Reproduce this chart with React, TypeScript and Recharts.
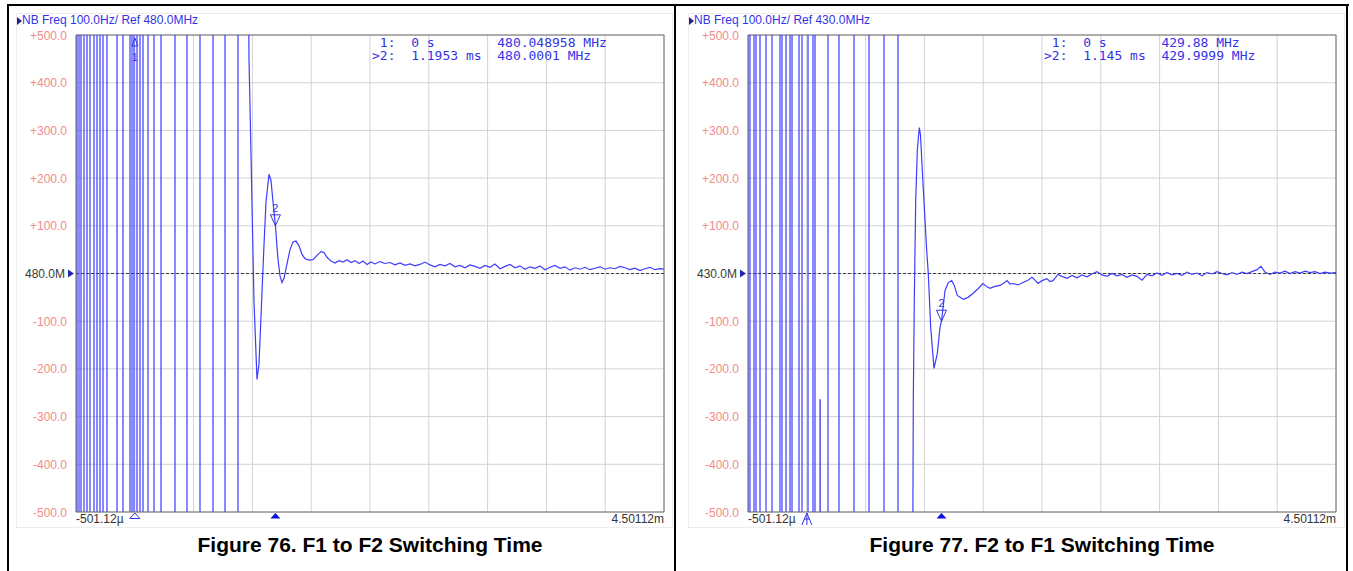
import React from 'react';
import { LineChart, Line, XAxis, YAxis, CartesianGrid, ReferenceLine, ReferenceDot } from 'recharts';

// x: time in ms (-501.12µ .. 4.50112m), y: offset from ref freq in Hz (10 div of 100 Hz)
const timeTicks = [-0.50112, -0.000896, 0.499328, 0.999552, 1.499776, 2.0, 2.500224, 3.000448, 3.500672, 4.000896, 4.50112];
const freqTicks = [-500, -400, -300, -200, -100, 0, 100, 200, 300, 400, 500];

// Figure 76: F1 -> F2 (ref 480.0 MHz)
// off-scale hops before lock: [time, from, to], +/-1000 = clipped off screen
const f76Start = [-0.50112, 1000];
const f76Hops = [
  [-0.4926, 1000, -1000], [-0.4756, -1000, 1000], [-0.4586, 1000, -1000], [-0.4331, -1000, 1000],
  [-0.4075, 1000, -1000], [-0.382, -1000, 1000], [-0.348, 1000, -1000], [-0.3225, -1000, 1000],
  [-0.2969, 1000, -1000], [-0.2714, -1000, 1000], [-0.2374, 1000, -1000], [-0.1523, -1000, 1000],
  [-0.1013, 1000, -1000], [-0.0417, -1000, 1000], [-0.0247, 1000, -1000], [-0.0077, -1000, 1000],
  [0.0178, 1000, -1000], [0.0433, -1000, 1000], [0.0689, 1000, -1000], [0.1114, -1000, 1000],
  [0.1624, 1000, -1000], [0.222, -1000, 1000], [0.3411, 1000, -1000], [0.4432, -1000, 1000],
  [0.5538, 1000, -1000], [0.6644, -1000, 1000], [0.7665, 1000, -1000], [0.8771, -1000, 1000],
];
const f76Settle = [
  [0.9536, 1000], [0.9706, 450], [0.9876, 250], [1.0132, -60], [1.0387, -222], [1.0557, -190],
  [1.0727, -90], [1.0982, 60], [1.1153, 150], [1.1408, 208], [1.1578, 195], [1.1748, 150],
  [1.1953, 100], [1.2173, 30], [1.2344, -5], [1.2514, -19], [1.2684, -10], [1.2939, 20],
  [1.3194, 50], [1.345, 66], [1.3705, 68], [1.396, 58], [1.4215, 40], [1.447, 31], [1.4811, 28],
  [1.5151, 29], [1.5491, 38], [1.5831, 46], [1.6087, 44], [1.6342, 34], [1.6682, 26], [1.7022, 22],
  [1.7363, 27], [1.7703, 24], [1.8043, 29], [1.8384, 23], [1.8724, 27], [1.9064, 21], [1.9404, 26],
  [1.9745, 19], [2.0085, 24], [2.0425, 20], [2.0851, 25], [2.1276, 21], [2.1701, 23], [2.2127, 18],
  [2.2552, 22], [2.2977, 17], [2.3403, 20], [2.3828, 16], [2.4253, 19], [2.4679, 24], [2.5104, 18],
  [2.5529, 14], [2.5955, 19], [2.638, 16], [2.6806, 21], [2.7231, 14], [2.7656, 17], [2.8082, 12],
  [2.8507, 18], [2.8932, 15], [2.9358, 11], [2.9783, 17], [3.0208, 13], [3.0634, 20], [3.1059, 10],
  [3.1485, 15], [3.191, 19], [3.2336, 12], [3.2761, 16], [3.3186, 9], [3.3612, 14], [3.4037, 11],
  [3.4462, 16], [3.4888, 8], [3.5313, 13], [3.5738, 17], [3.6164, 11], [3.6589, 14], [3.7015, 7],
  [3.744, 12], [3.7865, 9], [3.8291, 13], [3.8716, 8], [3.9141, 11], [3.9567, 14], [3.9992, 9],
  [4.0417, 12], [4.0843, 10], [4.1268, 15], [4.1694, 12], [4.2119, 8], [4.2544, 11], [4.297, 6],
  [4.3395, 10], [4.382, 13], [4.4246, 8], [4.4671, 10], [4.5011, 9],
];
const f76Marker1 = [0, 500];
const f76Marker2 = [1.1953, 100];
const f76Readout = ' 1:  0 s        480.048958 MHz\n>2:  1.1953 ms  480.0001 MHz';

// Figure 77: F2 -> F1 (ref 430.0 MHz)
const f77Start = [-0.50112, 1000];
const f77Hops = [
  [-0.5006, 1000, -1000], [-0.4841, -1000, 1000], [-0.4501, 1000, -1000], [-0.4331, -1000, 1000],
  [-0.399, 1000, -1000], [-0.348, -1000, 1000], [-0.2969, 1000, -1000], [-0.2289, -1000, 1000],
  [-0.2119, 1000, -1000], [-0.1778, -1000, 1000], [-0.1438, 1000, -1000], [-0.1268, -1000, 1000],
  [-0.0672, 1000, -1000], [-0.0417, -1000, 1000], [0.0093, 1000, -1000], [0.0518, -1000, 1000],
  [0.0689, 1000, -1000], [0.1114, -1000, -265], [0.113, -265, -1000], [0.1794, -1000, 1000],
  [0.273, 1000, -1000], [0.4007, -1000, 1000], [0.5283, 1000, -1000], [0.6559, -1000, 1000],
  [0.775, 1000, -1000],
];
const f77Settle = [
  [0.8941, -1000], [0.9051, -266], [0.9136, -57], [0.9256, 153], [0.9392, 258], [0.9562, 306],
  [0.9664, 290], [0.9876, 189], [1.0191, 48], [1.0327, 0], [1.0531, -113], [1.0812, -199],
  [1.1093, -168], [1.1323, -113], [1.145, -100], [1.1748, -36], [1.2029, -19], [1.2318, -15],
  [1.2539, -25], [1.2794, -46], [1.3305, -54], [1.3705, -50], [1.413, -42], [1.4555, -32],
  [1.4981, -21], [1.5321, -28], [1.5576, -31], [1.6001, -27], [1.6427, -25], [1.6767, -20],
  [1.7022, -15], [1.7278, -22], [1.7533, -21], [1.7958, -24], [1.8384, -19], [1.8809, -14],
  [1.9149, -8], [1.9404, -14], [1.966, -21], [2.0, -15], [2.0425, -11], [2.0681, -17], [2.0936, -15],
  [2.1361, -2], [2.1701, -6], [2.2127, -10], [2.2552, -4], [2.2977, -9], [2.3403, -3], [2.3828, -7],
  [2.4253, -1], [2.4679, 4], [2.5104, -3], [2.5529, -6], [2.5955, 0], [2.638, -5], [2.6806, -2],
  [2.7231, -8], [2.7656, -3], [2.8082, -6], [2.8507, -14], [2.8932, -2], [2.9358, -5], [2.9783, 1],
  [3.0208, -4], [3.0634, 2], [3.1059, -3], [3.1485, 0], [3.191, -4], [3.2336, 3], [3.2761, -2],
  [3.3186, 1], [3.3612, -5], [3.4037, 2], [3.4462, -1], [3.4888, 4], [3.5313, 0], [3.5738, -3],
  [3.6164, 2], [3.6589, -2], [3.7015, 3], [3.744, 0], [3.7865, 4], [3.8291, 8], [3.8631, 15],
  [3.8971, 3], [3.9397, -2], [3.9822, 3], [4.0247, 1], [4.0673, 5], [4.1098, 0], [4.1523, 4],
  [4.1949, 1], [4.2374, 5], [4.2799, 2], [4.3225, 4], [4.365, 0], [4.4076, 3], [4.4501, 1], [4.5011, 2],
];
const f77Marker1 = [0, -500];
const f77Marker2 = [1.145, -100];
const f77Readout = ' 1:  0 s       429.88 MHz\n>2:  1.145 ms  429.9999 MHz';

const TRACE = '#3d3dff';
const GRID = '#d3d3d3';
const FRAME = '#707070';
const LABEL_RED = '#f58a8a';
const TEXT_BLUE = '#3434e6';
const SANS = '"Liberation Sans", Arial, sans-serif';

function buildTrace(start: number[], hops: number[][], settle: number[][]) {
  const pts = [{ t: start[0], v: start[1] }];
  hops.forEach(([t, a, b]) => {
    pts.push({ t, v: a }, { t, v: b });
  });
  settle.forEach(([t, v]) => pts.push({ t, v }));
  return pts;
}

function FreqTick(props: any) {
  const { x, y, payload, refLabel } = props;
  if (payload.value === 0) {
    return (
      <g>
        <text x={x - 3} y={y} dy={4.5} textAnchor="end" fontSize={12} fontFamily={SANS} fill="#3a3a3a">{refLabel}</text>
        <path d={`M${x},${y - 4}L${x + 6},${y}L${x},${y + 4}Z`} fill="#2525b0" />
      </g>
    );
  }
  const label = (payload.value > 0 ? '+' : '') + payload.value.toFixed(1);
  return <text x={x - 1} y={y} dy={4.5} textAnchor="end" fontSize={12} fontFamily={SANS} fill={LABEL_RED}>{label}</text>;
}

function TimeTick(props: any) {
  const { x, y, payload } = props;
  if (payload.value === timeTicks[0]) {
    return <text x={x} y={y} dy={5} textAnchor="start" fontSize={12} fontFamily={SANS} fill="#333">-501.12µ</text>;
  }
  if (payload.value === timeTicks[timeTicks.length - 1]) {
    return <text x={x} y={y} dy={5} textAnchor="end" fontSize={12} fontFamily={SANS} fill="#333">4.50112m</text>;
  }
  return null;
}

const hollowUp = (p: any) => (
  <path d={`M${p.cx},${p.cy + 1}L${p.cx + 5},${p.cy + 6.5}L${p.cx - 5},${p.cy + 6.5}Z`} fill="#fff" stroke={TEXT_BLUE} strokeWidth={1} />
);
const hollowUpLow = (p: any) => (
  <g fill="none" stroke={TEXT_BLUE} strokeWidth={1}>
    <path d={`M${p.cx - 5},${p.cy + 13}L${p.cx},${p.cy + 1}L${p.cx + 5},${p.cy + 13}`} />
    <path d={`M${p.cx - 3},${p.cy + 7}L${p.cx + 3},${p.cy + 7}M${p.cx},${p.cy + 1}L${p.cx},${p.cy + 13}`} />
  </g>
);
const filledUp = (p: any) => (
  <path d={`M${p.cx},${p.cy + 1}L${p.cx + 5},${p.cy + 6.5}L${p.cx - 5},${p.cy + 6.5}Z`} fill="#1010e0" />
);
const markerTwo = (p: any) => (
  <g>
    <text x={p.cx} y={p.cy - 14} textAnchor="middle" fontSize={11} fontFamily={SANS} fill={TEXT_BLUE}>2</text>
    <path d={`M${p.cx},${p.cy}L${p.cx + 5},${p.cy - 11}L${p.cx - 5},${p.cy - 11}Z`} fill="none" stroke={TEXT_BLUE} strokeWidth={1} />
  </g>
);
const markerOneHigh = (p: any) => (
  <g>
    <path d={`M${p.cx},${p.cy + 3}L${p.cx + 3},${p.cy + 11}L${p.cx - 3},${p.cy + 11}Z`} fill="none" stroke={TEXT_BLUE} strokeWidth={1} />
    <text x={p.cx} y={p.cy + 26} textAnchor="middle" fontSize={10} fontFamily={SANS} fill={TEXT_BLUE}>1</text>
  </g>
);

function Panel(props: any) {
  const { left, data, refLabel, header, readout, caption, m1, m2, m1Shape } = props;
  return (
    <div style={{ position: 'absolute', left, top: 0, width: 680, height: 571 }}>
      <div style={{ position: 'absolute', left: 16, top: 13, width: 655, height: 513, border: '1px solid #ececec' }} />
      <div style={{ position: 'absolute', left: 17, top: 13, height: 14, lineHeight: '14px', fontFamily: SANS, fontSize: 12, color: TEXT_BLUE, whiteSpace: 'pre' }}>
        <span style={{ display: 'inline-block', width: 0, height: 0, borderLeft: '5px solid #22228a', borderTop: '4.5px solid transparent', borderBottom: '4.5px solid transparent', verticalAlign: '-1px' }} />
        {header}
      </div>
      <div style={{ position: 'absolute', left: 0, top: 0 }}>
        <LineChart width={680} height={571} data={data} margin={{ top: 35, right: 16, bottom: 39, left: 16 }}>
          <CartesianGrid stroke={GRID} strokeWidth={1} />
          <XAxis dataKey="t" type="number" domain={[timeTicks[0], timeTicks[timeTicks.length - 1]]} allowDataOverflow
            ticks={timeTicks} interval={0} height={20} tickSize={0} tickMargin={6} tickLine={false}
            axisLine={{ stroke: FRAME }} tick={<TimeTick />} />
          <YAxis type="number" domain={[-500, 500]} allowDataOverflow ticks={freqTicks} interval={0} width={60}
            tickSize={0} tickMargin={8} tickLine={false} axisLine={{ stroke: FRAME }} tick={<FreqTick refLabel={refLabel} />} />
          <ReferenceLine y={500} stroke={FRAME} />
          <ReferenceLine x={timeTicks[timeTicks.length - 1]} stroke={FRAME} />
          <ReferenceLine y={0} stroke="#3c3c3c" strokeDasharray="3 2" />
          <Line type="linear" dataKey="v" stroke={TRACE} strokeWidth={1.2} dot={false} isAnimationActive={false} />
          <ReferenceDot x={m1[0]} y={m1[1]} ifOverflow="visible" shape={m1Shape} />
          <ReferenceDot x={m1[0]} y={-500} ifOverflow="visible" shape={m1[1] < 0 ? hollowUpLow : hollowUp} />
          <ReferenceDot x={m2[0]} y={-500} ifOverflow="visible" shape={filledUp} />
          <ReferenceDot x={m2[0]} y={m2[1]} ifOverflow="visible" shape={markerTwo} />
        </LineChart>
      </div>
      <div style={{ position: 'absolute', left: 372, top: 36, fontFamily: '"DejaVu Sans Mono", monospace', fontSize: 13, lineHeight: '13px', color: TEXT_BLUE, whiteSpace: 'pre' }}>
        {readout}
      </div>
      <div style={{ position: 'absolute', left: 120, width: 500, top: 533, textAlign: 'center', fontFamily: SANS, fontWeight: 'bold', fontSize: 21, lineHeight: '24px', color: '#000' }}>
        {caption}
      </div>
    </div>
  );
}

export default function App() {
  const f76 = buildTrace(f76Start, f76Hops, f76Settle);
  const f77 = buildTrace(f77Start, f77Hops, f77Settle);
  return (
    <div style={{ position: 'absolute', left: 0, top: 0, width: 1353, height: 571, background: '#fff', overflow: 'hidden' }}>
      <Panel left={0} data={f76} refLabel="480.0M" header="NB Freq 100.0Hz/ Ref 480.0MHz" readout={f76Readout}
        caption="Figure 76. F1 to F2 Switching Time" m1={f76Marker1} m2={f76Marker2} m1Shape={markerOneHigh} />
      <Panel left={672} data={f77} refLabel="430.0M" header="NB Freq 100.0Hz/ Ref 430.0MHz" readout={f77Readout}
        caption="Figure 77. F2 to F1 Switching Time" m1={f77Marker1} m2={f77Marker2} m1Shape={() => <g />} />
      {/* table borders */}
      <div style={{ position: 'absolute', left: 7, top: 4, width: 1342, height: 2, background: '#000' }} />
      <div style={{ position: 'absolute', left: 7, top: 4, width: 2, height: 567, background: '#000' }} />
      <div style={{ position: 'absolute', left: 674, top: 4, width: 2, height: 567, background: '#000' }} />
      <div style={{ position: 'absolute', left: 1346, top: 4, width: 2, height: 567, background: '#000' }} />
    </div>
  );
}
